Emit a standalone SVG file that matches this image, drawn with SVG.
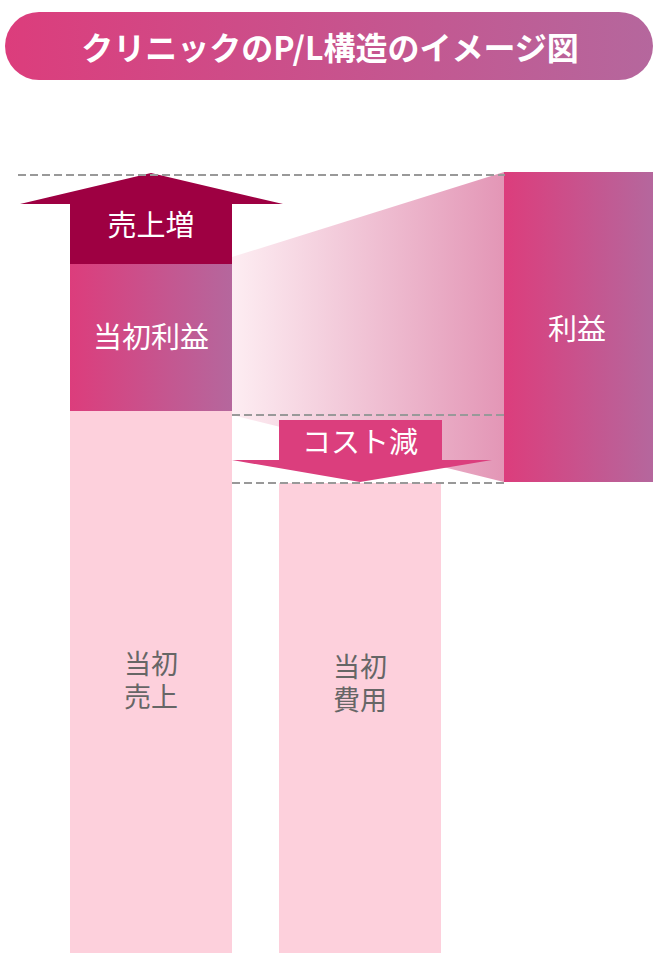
<svg xmlns="http://www.w3.org/2000/svg" width="653" height="953" viewBox="0 0 653 953">
<defs>
<linearGradient id="pink" x1="0" y1="0" x2="1" y2="0"><stop offset="0" stop-color="#DC3D7C"/><stop offset="1" stop-color="#B5679D"/></linearGradient>
<linearGradient id="fade" x1="232" y1="0" x2="504" y2="0" gradientUnits="userSpaceOnUse"><stop offset="0" stop-color="#FDEDF2"/><stop offset="1" stop-color="#E396B6"/></linearGradient>
<style>
.jp{font-family:"Noto Sans CJK JP","Noto Sans",sans-serif;text-anchor:middle}
.w{fill:#fff;font-size:29px;dominant-baseline:central}
.g{fill:#666;font-size:27px}
.dash{stroke:#999;stroke-width:2;stroke-dasharray:8 4;fill:none}
.light{fill:#FDD0DC}
</style>
</defs>
<g id="title">
<rect x="5" y="12" width="648" height="68" rx="34" fill="url(#pink)"/>
<text class="jp" x="330" y="46" fill="#fff" font-size="32" font-weight="bold" dominant-baseline="central">クリニックのP/L構造のイメージ図</text>
</g>
<g id="fade-band"><polygon points="232,257 504,172 504,482 232,415" fill="url(#fade)"/></g>
<g id="initial-sales">
<rect class="light" x="70" y="411" width="162" height="542"/>
<text class="jp g" x="151" y="674"><tspan x="151">当初</tspan><tspan x="151" dy="33">売上</tspan></text>
</g>
<g id="initial-cost">
<rect class="light" x="279" y="483" width="162" height="470"/>
<text class="jp g" x="360" y="677"><tspan x="360">当初</tspan><tspan x="360" dy="33">費用</tspan></text>
</g>
<g id="initial-profit">
<rect x="70" y="264" width="162" height="147" fill="url(#pink)"/>
<text class="jp w" x="151" y="335">当初利益</text>
</g>
<g id="sales-up">
<polygon points="151,173 283,204 232,204 232,264 70,264 70,204 20,204" fill="#9E0042"/>
<text class="jp w" x="151" y="223">売上増</text>
</g>
<g id="profit">
<rect x="504" y="172" width="149" height="310" fill="url(#pink)"/>
<text class="jp w" x="577" y="327">利益</text>
</g>
<g id="connectors">
<line class="dash" x1="18" y1="175" x2="505" y2="175"/>
<line class="dash" x1="232" y1="415" x2="504" y2="415"/>
<line class="dash" x1="232" y1="483" x2="504" y2="483"/>
</g>
<g id="cost-down">
<polygon points="279,420 442,420 442,460 492,460 360,482 232,460 279,460" fill="#DB3E7D"/>
<text class="jp w" x="360" y="440">コスト減</text>
</g>
</svg>
